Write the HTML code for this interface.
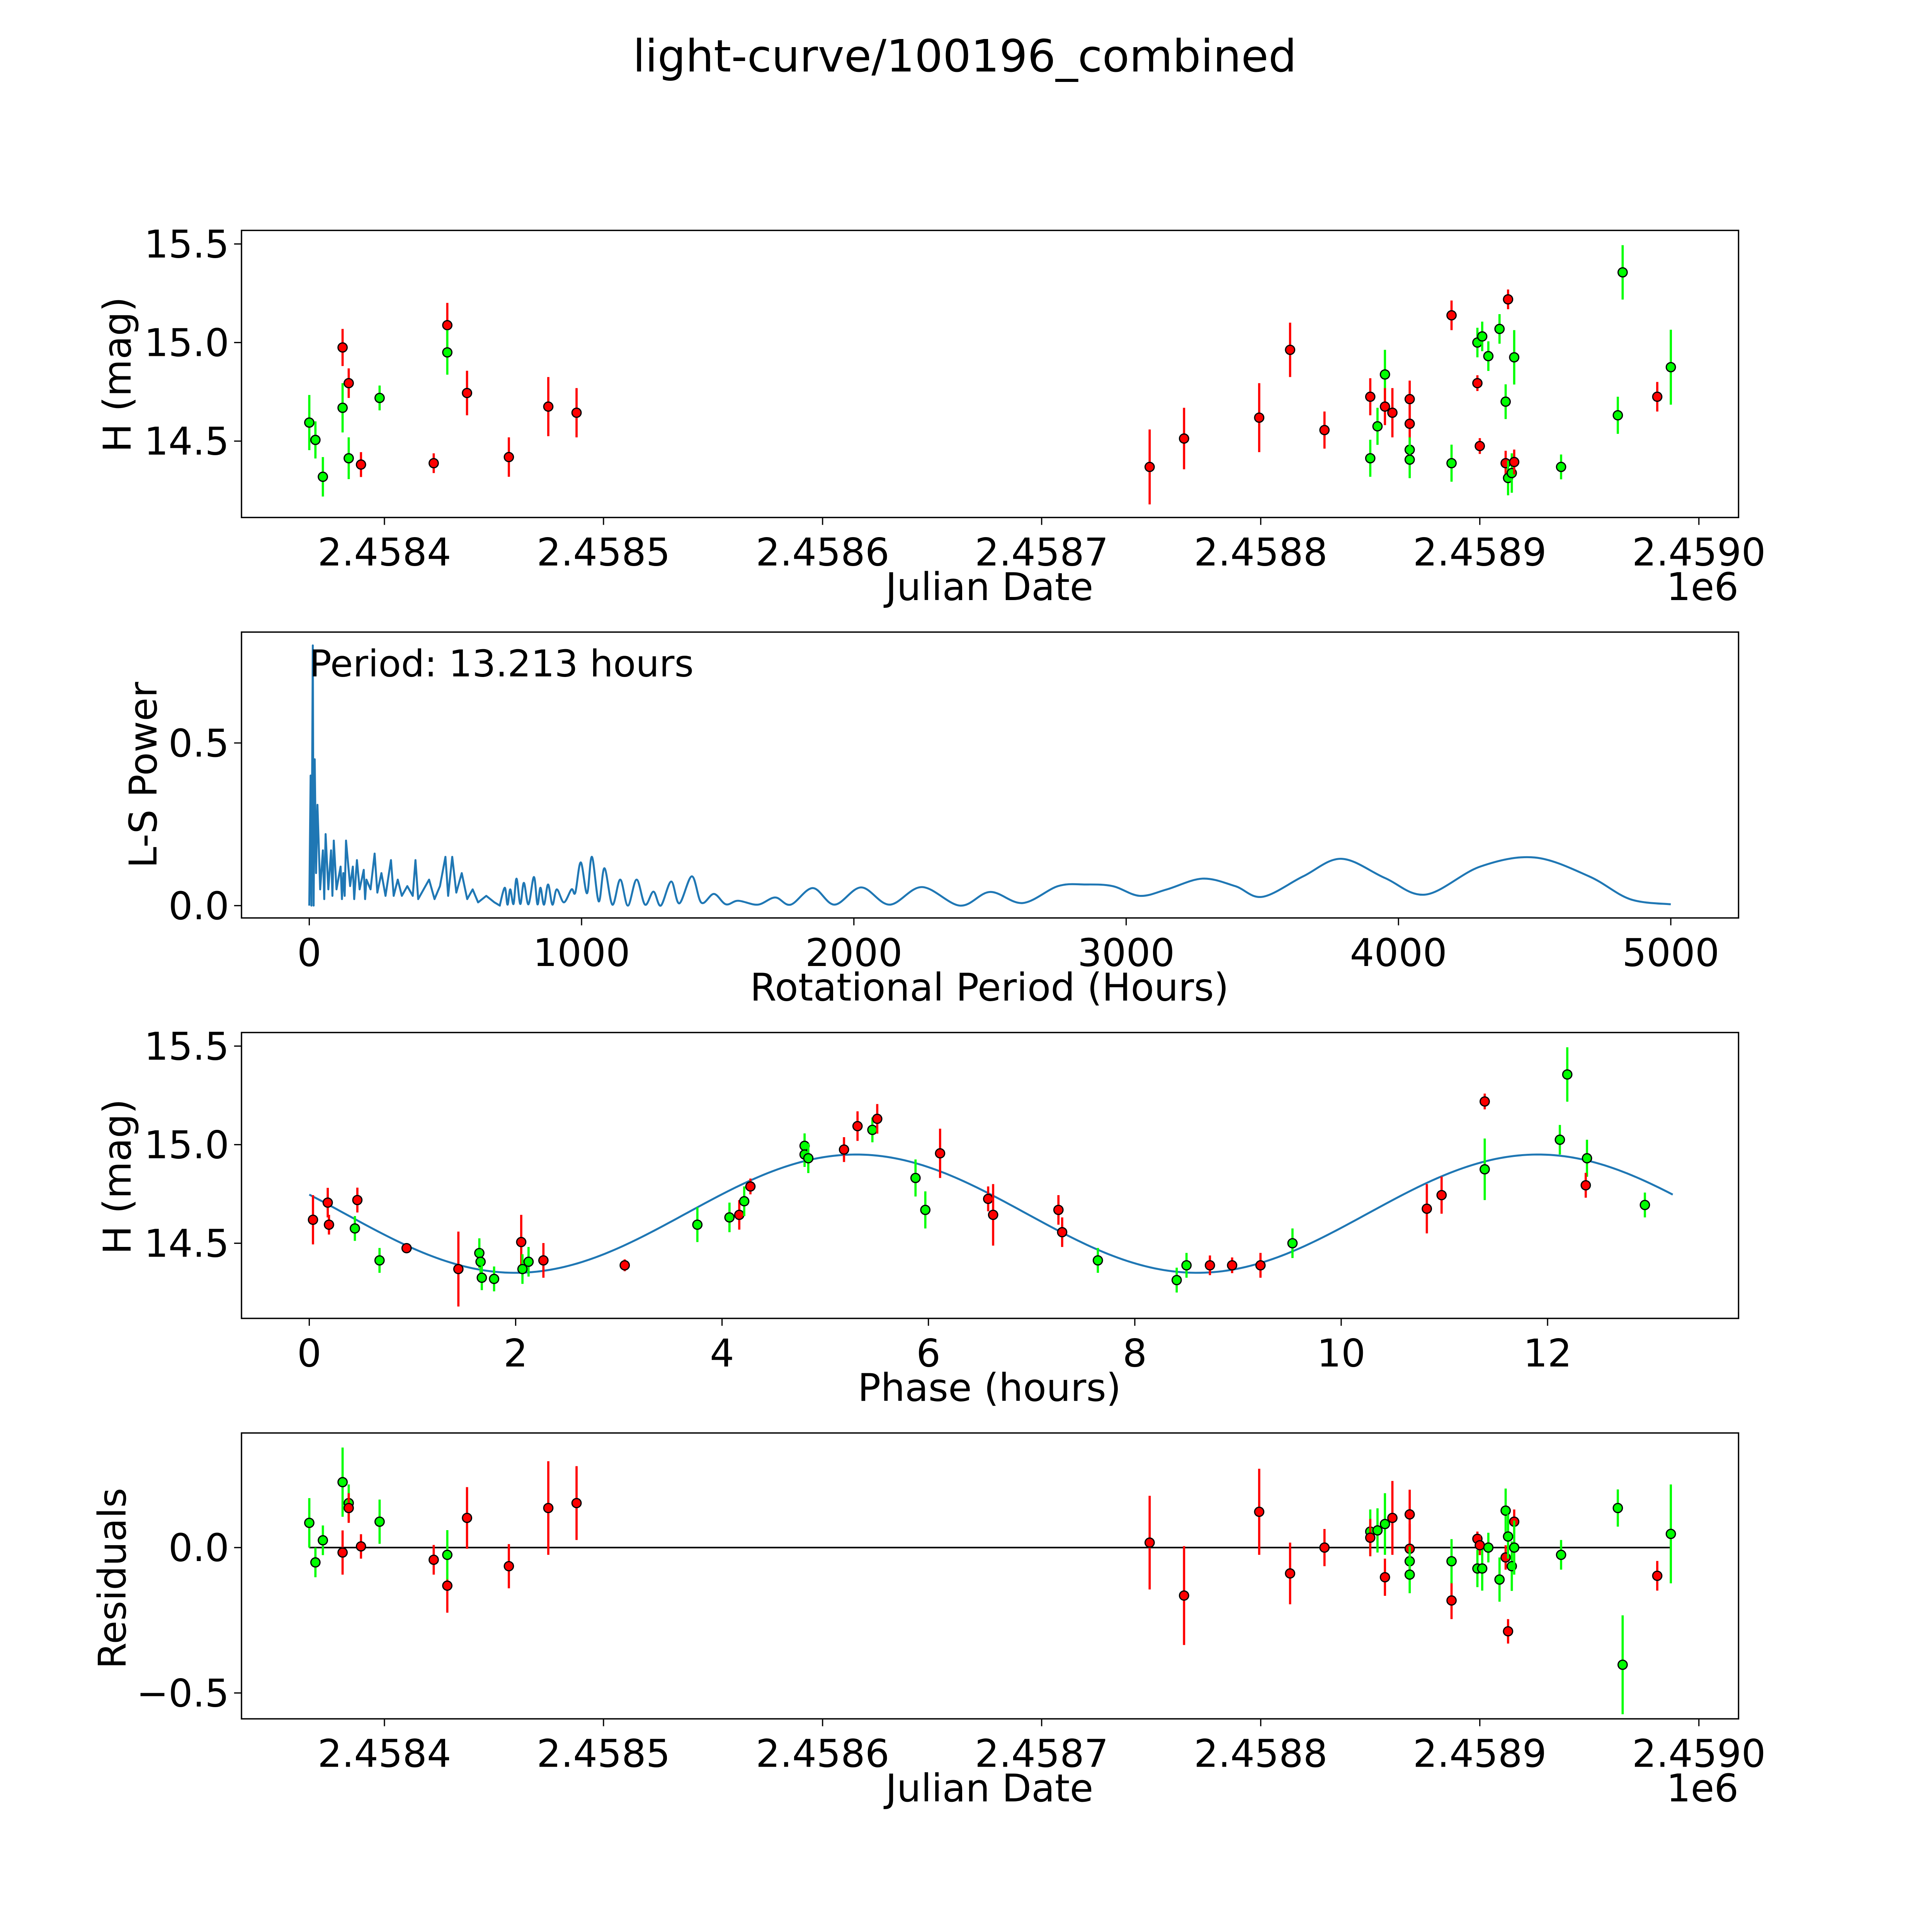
<!DOCTYPE html>
<html><head><meta charset="utf-8"><style>
html,body{margin:0;padding:0;background:#fff;overflow:hidden}
svg{display:block;width:100vw;height:100vh}
text{font-family:"DejaVu Sans","Liberation Sans",sans-serif;fill:#000}
</style></head><body>
<svg id="fig" xmlns="http://www.w3.org/2000/svg" viewBox="0 0 1568 1568" preserveAspectRatio="none">
<rect width="1568" height="1568" fill="#fff"/>
<text x="783" y="58" font-size="36" text-anchor="middle">light-curve/100196_combined</text>
<g id="g1"></g>
<g id="g2"></g>
<g id="g3"></g>
<g id="g4"></g>
</svg>
<script>
// ---- data ----
const jdOffset = [-34.3,-31.5,-28.1,-19.1,-19.1,-16.3,-16.3,-10.7,-2.2,22.5,28.7,28.7,37.7,56.8,74.8,87.7,349.3,365.0,399.3,413.4,429.1,450.0,450.0,453.3,456.7,456.7,460.1,468.0,468.0,468.0,468.0,487.1,487.1,498.9,498.9,501.1,500.0,503.9,509.0,511.8,512.9,511.8,512.9,514.6,515.7,515.7,537.1,563.0,565.2,581.0,587.2];
const obsColor = ['g','g','g','g','r','g','r','r','g','r','r','g','r','r','r','r','r','r','r','r','r','g','r','g','g','r','r','r','r','g','g','r','g','r','g','g','r','g','g','g','r','r','g','g','r','g','g','g','g','r','g'];
const mag = [14.594,14.506,14.319,14.669,14.975,14.413,14.794,14.381,14.719,14.388,15.088,14.95,14.744,14.419,14.675,14.644,14.369,14.513,14.619,14.963,14.556,14.413,14.725,14.575,14.838,14.675,14.644,14.713,14.588,14.456,14.406,15.138,14.388,14.794,15.0,15.031,14.475,14.931,15.069,14.7,15.219,14.388,14.313,14.338,14.394,14.925,14.369,14.631,15.356,14.725,14.875];
const magErr = [.14,.094,.1,.125,.094,.106,.075,.063,.063,.05,.113,.113,.113,.1,.15,.125,.19,.156,.175,.138,.094,.094,.094,.094,.125,.094,.125,.094,.094,.063,.094,.075,.094,.04,.075,.075,.04,.075,.075,.088,.05,.063,.088,.1,.063,.138,.063,.094,.138,.075,.19];
const resid = [.085,-.051,.025,.225,-.017,.153,.136,.004,.089,-.042,-.131,-.025,.102,-.064,.136,.153,.017,-.165,.123,-.089,0,.055,.034,.059,.081,-.102,.102,.114,-.004,-.047,-.093,-.182,-.047,.03,-.072,-.072,.008,0,-.11,.127,-.288,-.034,.038,-.064,.089,0,-.025,.136,-.403,-.097,.047];
const residErr = [.085,.051,.051,.119,.076,.064,.051,.042,.076,.051,.093,.085,.106,.076,.161,.127,.161,.17,.148,.106,.064,.076,.064,.076,.106,.064,.127,.085,.085,.051,.064,.064,.076,.025,.064,.076,.034,.051,.076,.076,.042,.042,.076,.085,.042,.093,.051,.064,.17,.051,.17];
const phase = [.036,.179,.191,.442,.466,.681,.943,1.445,1.648,1.66,1.672,1.791,2.054,2.066,2.125,2.269,3.057,3.761,4.072,4.167,4.215,4.275,4.8,4.8,4.836,5.182,5.313,5.457,5.504,5.875,6.113,5.97,6.579,6.627,7.26,7.296,7.642,8.406,8.501,8.728,8.943,9.218,9.528,10.83,10.973,11.391,11.391,12.119,12.191,12.382,12.37,12.943];
const phaseMag = [14.619,14.706,14.594,14.575,14.719,14.413,14.475,14.369,14.45,14.406,14.325,14.319,14.506,14.369,14.406,14.413,14.388,14.594,14.631,14.644,14.713,14.788,14.994,14.95,14.931,14.975,15.094,15.075,15.131,14.831,14.956,14.669,14.725,14.644,14.669,14.556,14.413,14.313,14.388,14.388,14.388,14.388,14.5,14.675,14.744,15.219,14.875,15.025,15.356,14.931,14.794,14.694];
const phaseErr = [.125,.075,.05,.063,.063,.063,.025,.19,.075,.063,.063,.063,.138,.075,.075,.088,.03,.088,.075,.075,.075,.04,.063,.063,.075,.063,.075,.063,.075,.094,.125,.094,.063,.156,.075,.075,.063,.063,.063,.05,.04,.063,.075,.125,.094,.04,.156,.075,.138,.094,.063,.063];
const phaseColor = ['r','r','r','g','r','g','r','r','g','g','g','g','r','g','g','r','r','g','g','r','g','r','g','g','g','r','r','g','r','g','r','g','r','r','r','r','g','g','g','r','r','r','g','r','r','r','g','g','g','g','r','g'];
const modelMean = 14.65, modelAmp = 0.3, modelPeak = 5.3, modelPeriod = 13.213;
const lsPeriod = [0,5,8,13,16,20,25,30,40,50,55,60,70,80,85,90,100,115,120,125,130,135,150,160,165,175,185,200,205,210,225,240,250,265,280,300,310,325,340,360,380,390,400,420,440,460,480,500,510,525,540,560,580,600,620,650,680,700];
const lsPower = [0,0.4,0,0.80,0,0.45,0.1,0.31,0.05,0.17,0.02,0.22,0.05,0.17,0.03,0.2,0.05,0.12,0.02,0.1,0.03,0.2,0.06,0.12,0.02,0.14,0.05,0.11,0.02,0.08,0.05,0.16,0.04,0.1,0.03,0.14,0.03,0.08,0.03,0.06,0.03,0.14,0.02,0.05,0.08,0.02,0.06,0.15,0.03,0.15,0.04,0.1,0.02,0.05,0.01,0.03,0.01,0];
const lsSmoothPeriod = [700,718,728,738,750,761,775,788,805,825,838,849,862,877,893,909,935,963,977,997,1020,1038,1063,1084,1113,1142,1170,1202,1233,1264,1291,1329,1359,1405,1440,1486,1530,1575,1647,1711,1768,1849,1929,2027,2131,2250,2390,2500,2620,2750,2850,2950,3050,3150,3280,3400,3500,3650,3790,3950,4100,4300,4500,4700,4850,5000];
const lsSmoothPower = [0.002,0.055,0.003,0.05,0.005,0.083,0.005,0.07,0.004,0.088,0.004,0.055,0.003,0.065,0.003,0.05,0.01,0.05,0.04,0.133,0.038,0.15,0.013,0.115,0.003,0.08,0,0.08,0.003,0.043,0,0.074,0.007,0.09,0.009,0.036,0.004,0.015,0.003,0.025,0.003,0.054,0.003,0.056,0.003,0.057,0,0.042,0.008,0.06,0.065,0.06,0.03,0.05,0.083,0.06,0.027,0.09,0.144,0.085,0.034,0.12,0.148,0.09,0.02,0.004];
const x1Ticks=[0,100,200,300,400,500,600], x1Labels=['2.4584','2.4585','2.4586','2.4587','2.4588','2.4589','2.4590'];
const magTicks=[14.5,15.0,15.5], magLabels=['14.5','15.0','15.5'];
const pTicks=[0,1000,2000,3000,4000,5000], powTicks=[0,0.5], powLabels=['0.0','0.5'];
const phTicks=[0,2,4,6,8,10,12], resTicks=[0,-0.5], resLabels=['0.0','\u22120.5'];

// ---- helpers ----
const NS='http://www.w3.org/2000/svg';
function mk(parent,tag,attrs,txt){const e=document.createElementNS(NS,tag);for(const k in attrs)e.setAttribute(k,attrs[k]);if(txt!==undefined)e.textContent=txt;parent.appendChild(e);return e;}
const L=196,R=1411,FS=31;
const xJD=d=>312+d*1.778;
const yMag=(top)=>m=>top+91-(m-15)*160;
const COL={r:'#ff0000',g:'#00ff00'};

function frame(g,top,bottom){
  const r=mk(g,'rect',{x:L,y:top,width:R-L,height:bottom-top,fill:'none',stroke:'#000','stroke-width':1.1});
  
  
}
function xtick(g,x,bottom,label){
  const t=mk(g,'line',{x1:x,x2:x,y1:bottom,y2:bottom+6,stroke:'#000','stroke-width':1});
  
  
  const s=mk(g,'text',{x:x,y:bottom+39,'font-size':FS,'text-anchor':'middle'},label);
  
  
}
function ytick(g,y,label){
  const t=mk(g,'line',{x1:L-6,x2:L,y1:y,y2:y,stroke:'#000','stroke-width':1});
  
  
  const s=mk(g,'text',{x:L-10,y:y+11,'font-size':FS,'text-anchor':'end'},label);
  
  
}
function xlabel(g,y,txt){const s=mk(g,'text',{x:803,y:y,'font-size':FS,'text-anchor':'middle'},txt);
  
  }
function ylabel(g,x,y,txt){const s=mk(g,'text',{x:x,y:y,'font-size':FS,'text-anchor':'middle',transform:`rotate(-90 ${x} ${y})`},txt);
  
  }
function offsetLabel(g,y){const s=mk(g,'text',{x:R,y:y,'font-size':FS,'text-anchor':'end'},'1e6');
  
  }
function point(g,x,y,ylo,yhi,c){
  const e=mk(g,'line',{x1:x,x2:x,y1:ylo,y2:yhi,stroke:COL[c],'stroke-width':1.8});
  
  
  const p=mk(g,'circle',{cx:x,cy:y,r:3.7,fill:COL[c],stroke:'#000','stroke-width':1});
  
  
}

// ---- panel 1 ----
(function(){
  const g=document.getElementById('g1'),top=187,bot=420,ym=yMag(top);
  frame(g,top,bot);
  x1Ticks.forEach((t,i)=>xtick(g,xJD(t),bot,x1Labels[i]));
  magTicks.forEach((t,i)=>ytick(g,ym(t),magLabels[i]));
  xlabel(g,487,'Julian Date'); offsetLabel(g,487); ylabel(g,106,304,'H (mag)');
  jdOffset.forEach((d,i)=>point(g,xJD(d),ym(mag[i]),ym(mag[i]-magErr[i]),ym(mag[i]+magErr[i]),obsColor[i]));
})();

// ---- panel 2 ----
(function(){
  const g=document.getElementById('g2'),top=513,bot=745;
  const xp=p=>251+p*0.221, yp=v=>735-v*264;
  frame(g,top,bot);
  pTicks.forEach(t=>xtick(g,xp(t),bot,String(t)));
  powTicks.forEach((t,i)=>ytick(g,yp(t),powLabels[i]));
  xlabel(g,812,'Rotational Period (Hours)'); ylabel(g,127,629,'L-S Power');
  let d='M'+lsPeriod.map((p,i)=>xp(p).toFixed(2)+','+yp(lsPower[i]).toFixed(2)).join(' L');
  const P=lsSmoothPeriod.map((p,i)=>[xp(p),yp(lsSmoothPower[i])]);
  for(let i=0;i<P.length-1;i++){
    const p0=P[Math.max(0,i-1)],p1=P[i],p2=P[i+1],p3=P[Math.min(P.length-1,i+2)];
    const c1=[p1[0]+(p2[0]-p0[0])/6,p1[1]+(p2[1]-p0[1])/6],c2=[p2[0]-(p3[0]-p1[0])/6,p2[1]-(p3[1]-p1[1])/6];
    d+=` ${i===0?'L'+p1[0].toFixed(2)+','+p1[1].toFixed(2)+' ':''}C${c1[0].toFixed(2)},${c1[1].toFixed(2)} ${c2[0].toFixed(2)},${c2[1].toFixed(2)} ${p2[0].toFixed(2)},${p2[1].toFixed(2)}`;
  }
  const ln=mk(g,'path',{d:d,fill:'none',stroke:'#1f77b4','stroke-width':1.6,'stroke-linejoin':'round'});
  
  
  const a=mk(g,'text',{x:251,y:549,'font-size':30},'Period: 13.213 hours');
  
  
})();

// ---- panel 3 ----
(function(){
  const g=document.getElementById('g3'),top=838,bot=1070,ym=yMag(top);
  const xh=h=>251+h*83.75;
  frame(g,top,bot);
  phTicks.forEach(t=>xtick(g,xh(t),bot,String(t)));
  magTicks.forEach((t,i)=>ytick(g,ym(t),magLabels[i]));
  xlabel(g,1137,'Phase (hours)'); ylabel(g,106,955,'H (mag)');
  let pts=[];
  for(let k=0;k<=300;k++){const h=modelPeriod*k/300;pts.push(xh(h).toFixed(2)+','+ym(modelMean+modelAmp*Math.cos(2*Math.PI*(h-modelPeak)/(modelPeriod/2))).toFixed(2));}
  const ln=mk(g,'polyline',{points:pts.join(' '),fill:'none',stroke:'#1f77b4','stroke-width':1.6});
  
  
  phase.forEach((h,i)=>point(g,xh(h),ym(phaseMag[i]),ym(phaseMag[i]-phaseErr[i]),ym(phaseMag[i]+phaseErr[i]),phaseColor[i]));
})();

// ---- panel 4 ----
(function(){
  const g=document.getElementById('g4'),top=1163,bot=1395;
  const yr=v=>1256-v*236;
  frame(g,top,bot);
  x1Ticks.forEach((t,i)=>xtick(g,xJD(t),bot,x1Labels[i]));
  resTicks.forEach((t,i)=>ytick(g,yr(t),resLabels[i]));
  xlabel(g,1462,'Julian Date'); offsetLabel(g,1462); ylabel(g,102,1281,'Residuals');
  const z=mk(g,'line',{x1:xJD(Math.min(...jdOffset)),x2:xJD(Math.max(...jdOffset)),y1:yr(0),y2:yr(0),stroke:'#000','stroke-width':1.3});
  
  
  jdOffset.forEach((d,i)=>point(g,xJD(d),yr(resid[i]),yr(resid[i]-residErr[i]),yr(resid[i]+residErr[i]),obsColor[i]));
})();
</script>
</body></html>
